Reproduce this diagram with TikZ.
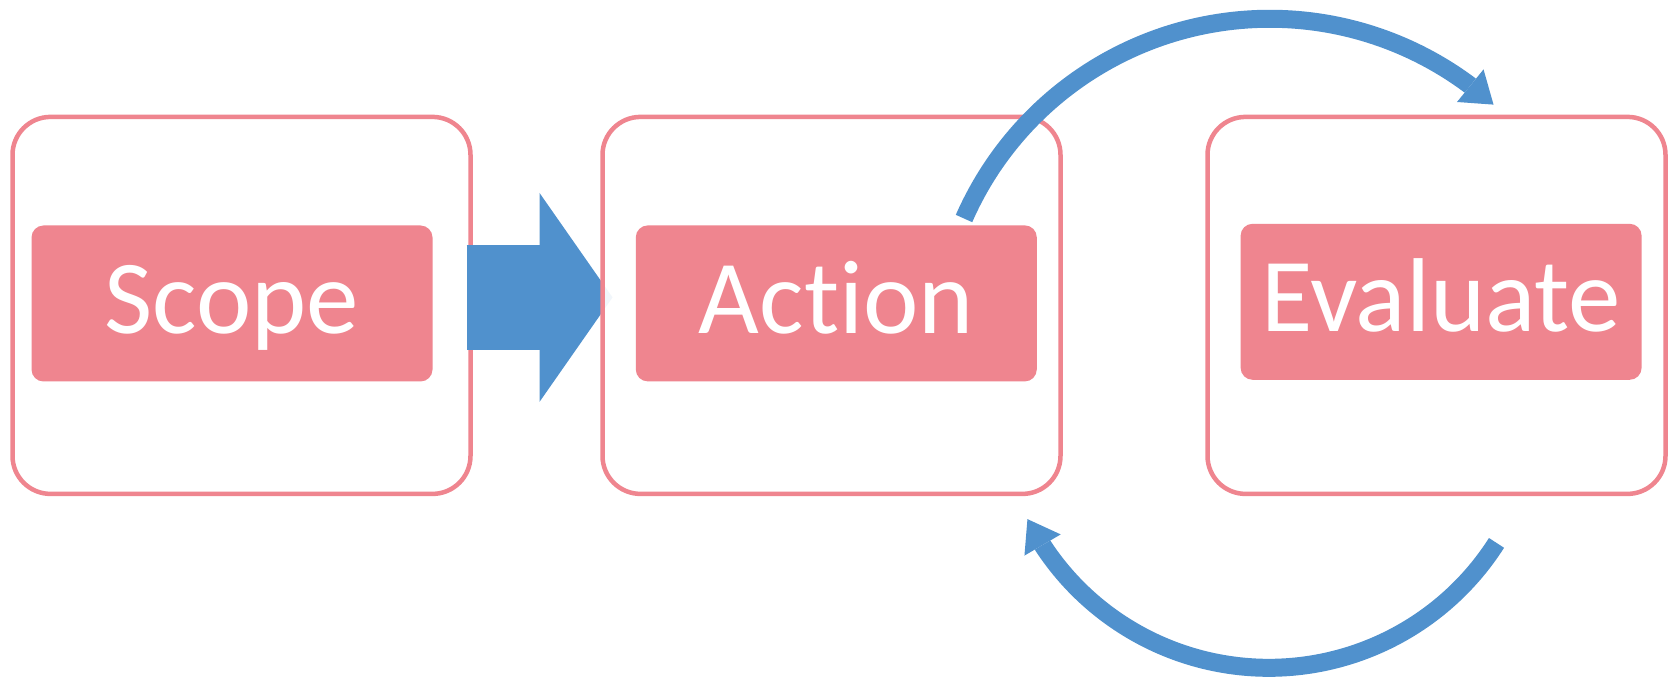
\documentclass[tikz,border=0pt]{standalone}
\usepackage{fontspec}
\setmainfont{Carlito}[Ligatures={NoCommon,NoRare}]
\usetikzlibrary{positioning,arrows.meta}
\definecolor{rosepink}{RGB}{239,133,143}
\definecolor{loopblue}{RGB}{80,145,205}

\begin{document}
\begin{tikzpicture}[x=1pt,y=1pt,
  panel/.style={draw=rosepink,line width=4.5pt,fill=white,rounded corners=38pt,
    minimum width=458pt,minimum height=377pt,inner sep=0pt,outer sep=0pt},
  phase/.style={fill=rosepink,text=white,rounded corners=12pt,minimum width=401pt,
    minimum height=156pt,inner sep=0pt,text height=68pt,text depth=8pt,
    font=\fontsize{105}{110}\selectfont},
  loop/.style={loopblue,line width=18pt,line join=round,
    -{Triangle[length=30pt,width=42pt,line width=0pt]}}]
\useasboundingbox (0,0) rectangle (1670,678);

\node[panel] (scopebox) at (241.5,372.6) {};
\node[phase] (scope) at ([shift={(-9.5,1.9)}]scopebox.center) {Scope};

% block arrow into the second box
\coordinate (arrowtip) at ([shift={(142,8)}]scopebox.east);
\draw[loopblue,line width=105pt,-{Triangle[length=73pt,width=209pt,line width=0pt]}]
  ([shift={(-4,8)}]scopebox.east) -- (arrowtip);

\node[panel,fill opacity=.92,right=132pt of scopebox] (actionbox) {};
\node[phase] (action) at ([shift={(4.8,2)}]actionbox.center) {Action};

\node[panel,right=147pt of actionbox] (evalbox) {};
\node[phase] (evaluate) at ([shift={(4.6,3.6)}]evalbox.center) {Evaluate};

% the loop between action and evaluate
\coordinate (loopstart) at ([shift={(-73,6.7)}]action.north east);
\draw[loop] (loopstart) arc[start angle=156.3,end angle=53.45,radius=334] -- ++(-39.1:32);

\coordinate (backstart) at ([shift={(60,-49)}]evalbox.south);
\draw[loop] (backstart) arc[start angle=-32.5,end angle=-146.53,radius=270] -- ++(120.3:32);

\end{tikzpicture}
\end{document}
